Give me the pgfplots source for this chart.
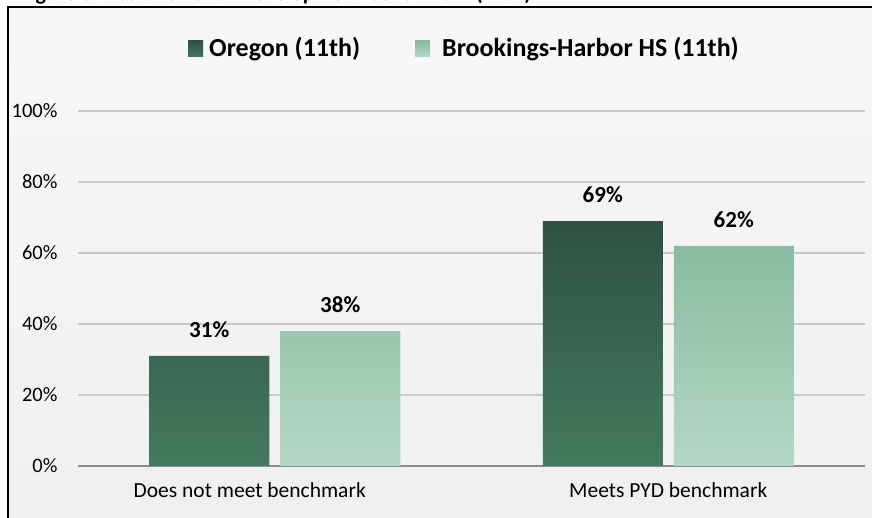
\documentclass[border=0pt]{standalone}
\usepackage{fontspec}
\setmainfont{Carlito}
\usepackage{pgfplots}
\pgfplotsset{compat=1.18}
\definecolor{oregonTop}{HTML}{2E5142}
\definecolor{oregonBot}{HTML}{447A5F}
\definecolor{bhTop}{HTML}{88BBA0}
\definecolor{bhBot}{HTML}{B5D8C6}
\definecolor{gridgray}{HTML}{C8C8C8}
\definecolor{axisgray}{HTML}{8C8C8C}

\begin{document}
\begin{tikzpicture}[x=1bp,y=1bp]
\useasboundingbox (0,0) rectangle (872,518);
% chart area background and frame
\fill[white] (0,0) rectangle (872,518);
\shade[top color=white!97!black, bottom color=white!94!black] (8,0) rectangle (872,511);
\draw[black, line width=2bp] (8,0) -- (8,511) -- (872,511);
% clipped figure title at the top edge
\begin{scope}
\clip (0,512.5) rectangle (872,518);
\node[anchor=base west, inner sep=0pt, font=\fontsize{22bp}{26bp}\selectfont\bfseries] at (20,517) {Figure 5: Positive Youth Development benchmark (11th)};
\end{scope}

\begin{axis}[
  at={(78bp,52bp)}, anchor=south west,
  scale only axis, width=787bp, height=355bp,
  xmin=-0.5, xmax=1.5, ymin=0, ymax=100,
  axis lines*=left,
  y axis line style={draw=none},
  x axis line style={draw=axisgray, line width=1.5bp},
  xtick={0,1},
  xticklabels={{Does not meet benchmark\hspace*{50bp}}, Meets PYD benchmark},
  xtick style={draw=none},
  extra x ticks={-0.5,0.5,1.5},
  extra x tick labels={},
  extra x tick style={tick align=outside, major tick length=7bp, tick style={draw=axisgray, line width=1.5bp}},
  ytick={0,20,40,60,80,100},
  yticklabel={\pgfmathprintnumber{\tick}\%},
  ytick style={draw=none},
  ymajorgrids,
  grid style={draw=gridgray, line width=1.2bp},
  /pgf/number format/assume math mode=true,
  yticklabel style={font=\fontsize{20.5bp}{24bp}\selectfont, xshift=-17bp},
  xticklabel style={font=\fontsize{21.5bp}{25bp}\selectfont, yshift=-9bp},
  ybar, bar width=120bp,
  nodes near coords={\pgfmathprintnumber{\pgfplotspointmeta}\%},
  every node near coord/.append style={font=\fontsize{23bp}{27bp}\selectfont\bfseries, anchor=center, yshift=26bp},
  clip=false,
]
\addplot[bar shift=-65.5bp, draw=none, top color=oregonTop, bottom color=oregonBot] coordinates {(0,31) (1,69)};
\addplot[bar shift=65.5bp, draw=none, top color=bhTop, bottom color=bhBot] coordinates {(0,38) (1,62)};
\end{axis}

% legend
\shade[top color=oregonTop, bottom color=oregonBot] (188,461) rectangle (203,477);
\node[anchor=west, inner sep=0pt, font=\fontsize{26bp}{30bp}\selectfont\bfseries] at (209,469) {Oregon (11th)};
\shade[top color=bhTop, bottom color=bhBot] (415,461) rectangle (430,477);
\node[anchor=west, inner sep=0pt, font=\fontsize{26bp}{30bp}\selectfont\bfseries] at (442,469) {Brookings-Harbor HS (11th)};
\end{tikzpicture}
\end{document}
